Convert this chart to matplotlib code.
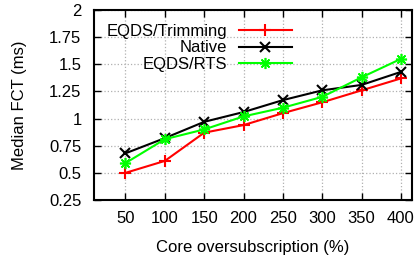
import matplotlib
matplotlib.use('Agg')
import matplotlib.pyplot as plt

# datos
oversub = [50, 100, 150, 200, 250, 300, 350, 400]
fct_trimming = [0.50, 0.61, 0.87, 0.94, 1.05, 1.15, 1.26, 1.37]
fct_native = [0.68, 0.82, 0.97, 1.06, 1.17, 1.26, 1.31, 1.43]
fct_rts = [0.59, 0.81, 0.90, 1.02, 1.10, 1.20, 1.38, 1.55]
yticks = [0.25, 0.5, 0.75, 1, 1.25, 1.5, 1.75, 2]
ytick_labels = ['0.25', '0.5', '0.75', '1', '1.25', '1.5', '1.75', '2']

plt.rcParams['font.family'] = ['Liberation Sans', 'DejaVu Sans']
plt.rcParams['font.size'] = 12

fig = plt.figure(figsize=(4.17, 2.6), dpi=100)
ax = fig.add_axes([94/417, 1 - 200/260, 318/417, 190/260])

ax.plot(oversub, fct_trimming, color='#ff0000', lw=1.5, marker='+', ms=8, mew=1.5, label='EQDS/Trimming')
ax.plot(oversub, fct_native, color='black', lw=1.5, marker='x', ms=7, mew=1.5, label='Native')
ax.plot(oversub, fct_rts, color='#00ff00', lw=1.5, marker=(8, 2, 0), ms=8, mew=1.2, label='EQDS/RTS')

ax.set_xlim(10, 414)
ax.set_ylim(0.25, 2)
ax.set_xticks(oversub)
ax.set_yticks(yticks)
ax.set_yticklabels(ytick_labels)
ax.tick_params(direction='in', length=5, width=1, top=True, right=True, labelsize=12)
ax.tick_params(axis='y', pad=9)
ax.tick_params(axis='x', pad=8)
for s in ax.spines.values():
    s.set_linewidth(1.5)
ax.grid(True, color='#b0b0b0', linestyle=':', linewidth=0.9)

ax.set_xlabel('Core oversubscription (%)', fontsize=12, labelpad=10)
ax.set_ylabel('Median FCT (ms)', fontsize=12, labelpad=16)

leg = ax.legend(loc='upper right', bbox_to_anchor=((292 - 94) / 318, (200 - 24) / 190),
                markerfirst=False, frameon=False, handlelength=3.2, handletextpad=0.7,
                labelspacing=0.08, borderpad=0, borderaxespad=0, fontsize=12)

plt.savefig('out.png', dpi=100)
plt.close(fig)
